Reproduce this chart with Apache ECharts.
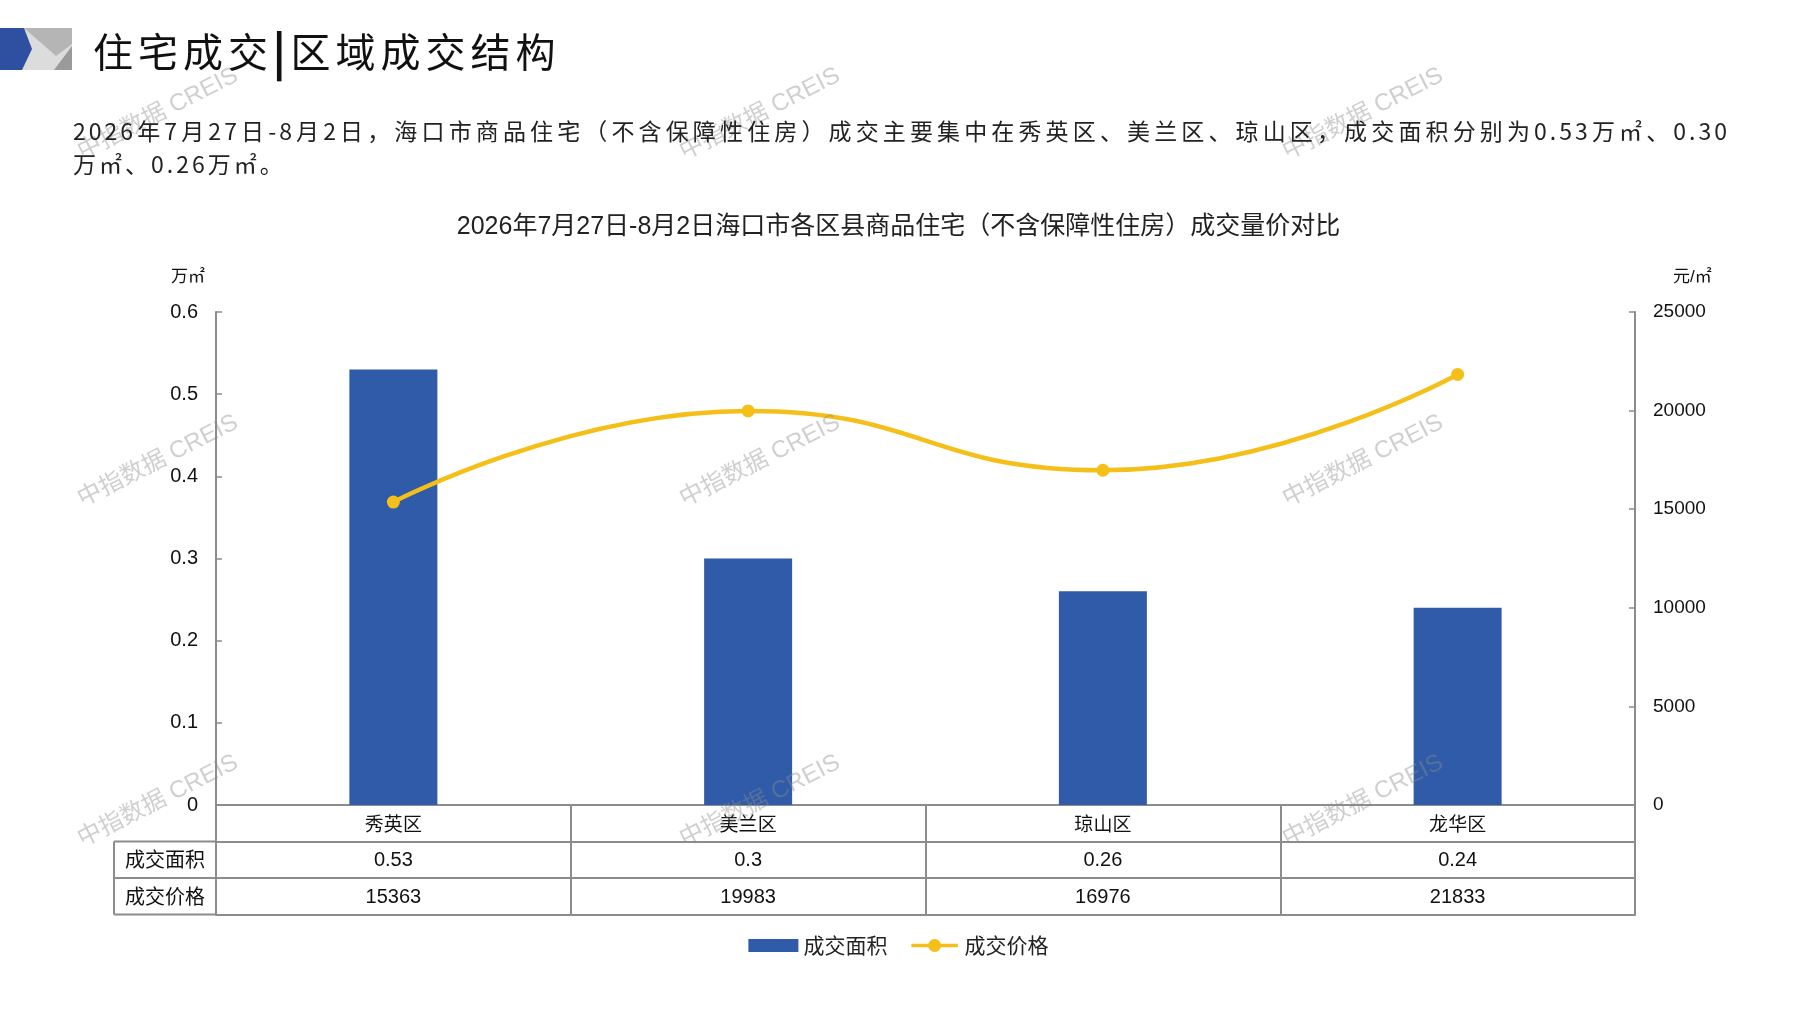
<!DOCTYPE html>
<html>
<head>
<meta charset="utf-8">
<script src="https://cdn.jsdelivr.net/npm/echarts@6/dist/echarts.min.js"></script>
<style>
  html, body { margin: 0; padding: 0; background: #fff; }
  #wrap { position: relative; width: 1797px; height: 1010px; overflow: hidden; }
  #chart { position: absolute; left: 0; top: 0; width: 1797px; height: 1010px; }
  .hdr { position: absolute; left: 93px; top: 26px; font-family: 'Noto Sans CJK SC', sans-serif; font-size: 40px; line-height: 48px; letter-spacing: 5px; color: #111; white-space: nowrap; z-index: 2; }
  .hdr .bar { font-weight: 900; display: inline-block; transform: scaleY(1.1); }
  .para { position: absolute; left: 73px; top: 114px; width: 1657px; font-family: 'Noto Sans CJK SC', sans-serif; font-size: 23px; line-height: 33px; letter-spacing: 3px; color: #222; z-index: 2; }
  .para .l1 { white-space: nowrap; text-align: justify; text-align-last: justify; }
  .logo { position: absolute; left: 0; top: 0; z-index: 2; }
</style>
</head>
<body>
<div id="wrap">
  <div id="chart"></div>
  <svg class="logo" width="80" height="80">
    <rect x="20" y="28" width="52" height="42" fill="#dcdcdc"/>
    <polygon points="24,28 72,28 72,44 56,56" fill="#b5b5b5"/>
    <polygon points="72,46 72,70 54,70" fill="#9a9a9a"/>
    <polygon points="0,28 24,28 32,49 22,70 0,70" fill="#2f4fa0"/>
  </svg>
  <div class="hdr">住宅成交<span class="bar">|</span>区域成交结构</div>
  <div class="para">
    <div class="l1">2026年7月27日-8月2日，海口市商品住宅（不含保障性住房）成交主要集中在秀英区、美兰区、琼山区，成交面积分别为0.53万㎡、0.30</div>
    <div>万㎡、0.26万㎡。</div>
  </div>
</div>
<script>
const categories = ['秀英区', '美兰区', '琼山区', '龙华区'];
const areaValues = [0.53, 0.3, 0.26, 0.24];
const priceValues = [15363, 19983, 16976, 21833];
const leftTicks = { min: 0, max: 0.6, interval: 0.1 };
const rightTicks = { min: 0, max: 25000, interval: 5000 };
const seriesNames = ['成交面积', '成交价格'];
const chartTitle = '2026年7月27日-8月2日海口市各区县商品住宅（不含保障性住房）成交量价对比';
const leftUnit = '万㎡';
const rightUnit = '元/㎡';
const watermark = '中指数据 CREIS';

const GRID = { left: 216, right: 162, top: 312, height: 493 };
const ROW = 36.5;
const TABLE_LEFT = 114;
const LINE_COLOR = '#8c8c8c';
const BAR_COLOR = '#2f5ba8';
const LINE_SERIES_COLOR = '#f5bf19';
const FONT = "'Liberation Sans','Noto Sans CJK SC',sans-serif";
const CJK = "'Noto Sans CJK SC',sans-serif";
const LINE_LEGEND_ICON = 'path://M0,5 L50,5 L50,9 L0,9 Z M18,7 A7,7 0 1,1 32,7 A7,7 0 1,1 18,7 Z';

const chart = echarts.init(document.getElementById('chart'), null, { renderer: 'canvas' });

const gridBottomY = GRID.top + GRID.height;
const tableGraphics = [];
for (let i = 1; i <= 3; i++) {
  tableGraphics.push({
    type: 'line', z: 10,
    shape: { x1: TABLE_LEFT, y1: gridBottomY + ROW * i, x2: GRID.left, y2: gridBottomY + ROW * i },
    style: { stroke: LINE_COLOR, lineWidth: 2 }
  });
}
tableGraphics.push({
  type: 'line', z: 10,
  shape: { x1: TABLE_LEFT, y1: gridBottomY + ROW, x2: TABLE_LEFT, y2: gridBottomY + ROW * 3 },
  style: { stroke: LINE_COLOR, lineWidth: 2 }
});
seriesNames.forEach((n, i) => {
  tableGraphics.push({
    type: 'text', z: 10, x: (TABLE_LEFT + GRID.left) / 2, y: gridBottomY + ROW * (i + 1.5),
    style: { text: n, fill: '#111', font: "20px 'Noto Sans CJK SC',sans-serif", align: 'center', verticalAlign: 'middle' }
  });
});

const wmPos = [];
[158, 760, 1363].forEach(x => [114, 461, 801].forEach(y => wmPos.push([x, y])));
const wmGraphics = wmPos.map(p => ({
  type: 'text', z: 100, x: p[0], y: p[1], rotation: 0.47,
  style: { text: watermark, fill: 'rgba(140,140,140,0.42)', font: "24px 'Liberation Sans','Noto Sans CJK SC',sans-serif", align: 'center', verticalAlign: 'middle' }
}));

const tableRowAxis = (offset, data, showLabels) => ({
  type: 'category', gridIndex: 0, position: 'bottom', offset: offset, data: data,
  axisLine: { show: true, onZero: false, lineStyle: { color: LINE_COLOR, width: 2 } },
  axisTick: { show: false },
  axisLabel: { show: showLabels, interval: 0, margin: 9, fontSize: 20, color: '#111', fontFamily: FONT },
  splitLine: { show: false }
});

chart.setOption({
  animation: false,
  title: {
    text: chartTitle, left: 'center', top: 210,
    textStyle: { fontSize: 25, fontWeight: 'normal', color: '#222', fontFamily: FONT }
  },
  legend: {
    data: [
      { name: seriesNames[0], icon: 'rect' },
      { name: seriesNames[1], icon: LINE_LEGEND_ICON }
    ],
    left: 'center', top: 930, itemGap: 24, itemWidth: 50, itemHeight: 13,
    textStyle: { fontSize: 21, color: '#222', fontFamily: CJK }
  },
  grid: { left: GRID.left, right: GRID.right, top: GRID.top, height: GRID.height },
  xAxis: [
    {
      type: 'category', data: categories, position: 'bottom',
      axisLine: { show: true, onZero: false, lineStyle: { color: LINE_COLOR, width: 2 } },
      axisTick: { show: true, interval: 0, alignWithLabel: false, inside: false, length: ROW * 3, lineStyle: { color: LINE_COLOR, width: 2 } },
      axisLabel: { interval: 0, margin: 9, fontSize: 19, color: '#111', fontFamily: CJK }
    },
    tableRowAxis(ROW, areaValues.map(v => String(v)), true),
    tableRowAxis(ROW * 2, priceValues.map(v => String(v)), true),
    tableRowAxis(ROW * 3, categories.map(() => ''), false)
  ],
  yAxis: [
    {
      type: 'value', min: leftTicks.min, max: leftTicks.max, interval: leftTicks.interval,
      name: leftUnit, nameLocation: 'end', nameGap: 26,
      nameTextStyle: { fontSize: 17, color: '#111', fontFamily: FONT, align: 'right', padding: [0, 11, 0, 0] },
      axisLine: { show: true, lineStyle: { color: LINE_COLOR, width: 2 } },
      axisTick: { show: true, inside: true, length: 6, lineStyle: { color: LINE_COLOR, width: 1.5 } },
      axisLabel: { margin: 18, fontSize: 20, color: '#111', fontFamily: FONT, formatter: v => v === 0 ? '0' : v.toFixed(1) },
      splitLine: { show: false }
    },
    {
      type: 'value', min: rightTicks.min, max: rightTicks.max, interval: rightTicks.interval,
      name: rightUnit, nameLocation: 'end', nameGap: 26,
      nameTextStyle: { fontSize: 17, color: '#111', fontFamily: FONT, align: 'left', padding: [0, 0, 0, 38] },
      axisLine: { show: true, lineStyle: { color: LINE_COLOR, width: 2 } },
      axisTick: { show: true, inside: true, length: 6, lineStyle: { color: LINE_COLOR, width: 1.5 } },
      axisLabel: { margin: 18, fontSize: 19, color: '#111', fontFamily: FONT, formatter: v => String(v) },
      splitLine: { show: false }
    }
  ],
  series: [
    {
      name: seriesNames[0], type: 'bar', xAxisIndex: 0, yAxisIndex: 0, data: areaValues,
      barWidth: 88, itemStyle: { color: BAR_COLOR }
    },
    {
      name: seriesNames[1], type: 'line', xAxisIndex: 0, yAxisIndex: 1, data: priceValues,
      smooth: true, symbol: 'circle', symbolSize: 13,
      lineStyle: { color: LINE_SERIES_COLOR, width: 4.5 },
      itemStyle: { color: LINE_SERIES_COLOR }
    }
  ],
  graphic: tableGraphics.concat(wmGraphics)
});
</script>
</body>
</html>
